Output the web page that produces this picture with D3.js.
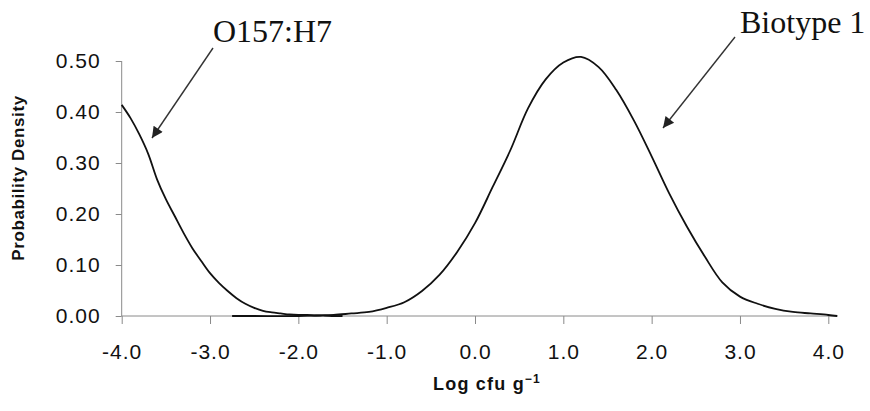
<!DOCTYPE html>
<html>
<head>
<meta charset="utf-8">
<script src="https://cdn.jsdelivr.net/npm/d3@7/dist/d3.min.js"></script>
<style>
  html, body { margin: 0; padding: 0; background: #fff; }
  svg { display: block; }
</style>
</head>
<body>
<svg id="chart" width="870" height="411"></svg>
<script>
// ---- data ----
const xTicks = [-4, -3, -2, -1, 0, 1, 2, 3, 4];
const yTicks = [0, 0.1, 0.2, 0.3, 0.4, 0.5];

const o157X = [-4.0, -3.9, -3.8, -3.7, -3.6, -3.5, -3.4, -3.3, -3.2, -3.1, -3.0, -2.9, -2.8, -2.7, -2.6, -2.5, -2.4, -2.3, -2.2, -2.1, -2.0, -1.9, -1.8, -1.7, -1.6, -1.5];
const o157Y = [0.414, 0.388, 0.356, 0.318, 0.268, 0.229, 0.196, 0.163, 0.133, 0.108, 0.084, 0.065, 0.049, 0.035, 0.024, 0.016, 0.010, 0.007, 0.005, 0.003, 0.002, 0.002, 0.001, 0.001, 0.0, 0.0];

const bioX = [-2.75, -2.5, -2.0, -1.8, -1.6, -1.4, -1.2, -1.0, -0.8, -0.6, -0.4, -0.2, 0.0, 0.2, 0.4, 0.6, 0.8, 1.0, 1.2, 1.4, 1.6, 1.8, 2.0, 2.2, 2.4, 2.6, 2.8, 3.0, 3.2, 3.4, 3.6, 3.8, 4.0, 4.1];
const bioY = [0.0, 0.0, 0.0, 0.001, 0.002, 0.005, 0.008, 0.016, 0.027, 0.049, 0.081, 0.126, 0.182, 0.253, 0.325, 0.407, 0.464, 0.497, 0.508, 0.488, 0.443, 0.383, 0.313, 0.240, 0.175, 0.117, 0.066, 0.038, 0.024, 0.014, 0.008, 0.005, 0.002, 0.0];

const labels = ["O157:H7", "Biotype 1"];
const yTitle = "Probability Density";

// ---- layout ----
const svg = d3.select("#chart");
const x = d3.scaleLinear().domain([-4, 4]).range([121.7, 828.3]);
const xMax = 4.11;
const y = d3.scaleLinear().domain([0, 0.5]).range([316, 61]);

const axisColor = "#8a8a8a";
const fmtX = d => d3.format(".1f")(d).replace("\u2212", "-");

// y axis
const yAxis = svg.append("g").attr("transform", `translate(${x(-4)},0)`)
  .call(d3.axisLeft(y).tickValues(yTicks).tickFormat(d3.format(".2f")).tickSize(6).tickSizeOuter(0));
yAxis.select(".domain").attr("stroke", axisColor).attr("d", `M0,${y(0.5)}V${y(0)}`);
yAxis.selectAll(".tick line").attr("stroke", axisColor);
yAxis.selectAll(".tick text")
  .attr("x", -21)
  .attr("fill", "#111")
  .style("font-family", "Liberation Sans, Arial, sans-serif")
  .style("font-size", "21px")
  .style("letter-spacing", "1px");

// x axis
const xAxis = svg.append("g").attr("transform", `translate(0,${y(0)})`)
  .call(d3.axisBottom(x).tickValues(xTicks).tickFormat(fmtX).tickSize(8).tickSizeOuter(0));
xAxis.select(".domain").attr("stroke", axisColor).attr("d", `M${x(-4)},0H${x(xMax)}`);
xAxis.selectAll(".tick line").attr("stroke", axisColor);
xAxis.selectAll(".tick text")
  .attr("y", 28)
  .attr("dy", "0.71em")
  .attr("fill", "#111")
  .style("font-family", "Liberation Sans, Arial, sans-serif")
  .style("font-size", "21px")
  .style("letter-spacing", "1px");

// axis titles
svg.append("text")
  .attr("transform", `translate(24,${178}) rotate(-90)`)
  .attr("text-anchor", "middle")
  .style("font-family", "Liberation Sans, Arial, sans-serif")
  .style("font-weight", "bold")
  .style("font-size", "17px")
  .style("letter-spacing", "0.6px")
  .attr("fill", "#111")
  .text(yTitle);

const xt = svg.append("text")
  .attr("x", 487).attr("y", 390)
  .attr("text-anchor", "middle")
  .style("font-family", "Liberation Sans, Arial, sans-serif")
  .style("font-weight", "bold")
  .style("font-size", "18px")
  .style("letter-spacing", "1.2px")
  .attr("fill", "#111");
xt.append("tspan").text("Log cfu g");
xt.append("tspan").attr("dy", -7).style("font-size", "12px").text("\u22121");

// curves
const line = d3.line().x(d => x(d[0])).y(d => y(d[1])).curve(d3.curveCatmullRom.alpha(0.5));
svg.append("path")
  .datum(bioX.map((v, i) => [v, bioY[i]]))
  .attr("d", line).attr("fill", "none").attr("stroke", "#111").attr("stroke-width", 1.8);
svg.append("path")
  .datum(o157X.map((v, i) => [v, o157Y[i]]))
  .attr("d", line).attr("fill", "none").attr("stroke", "#111").attr("stroke-width", 1.8);

// arrows
const defs = svg.append("defs");
defs.append("marker")
  .attr("id", "ah").attr("viewBox", "0 0 10 10")
  .attr("refX", 10).attr("refY", 5)
  .attr("markerWidth", 16).attr("markerHeight", 11)
  .attr("markerUnits", "userSpaceOnUse")
  .attr("orient", "auto")
  .append("path").attr("d", "M0,0L10,5L0,10Z").attr("fill", "#222");

svg.append("line")
  .attr("x1", 213).attr("y1", 48).attr("x2", 152).attr("y2", 138)
  .attr("stroke", "#333").attr("stroke-width", 1.4).attr("marker-end", "url(#ah)");
svg.append("line")
  .attr("x1", 735).attr("y1", 37).attr("x2", 663).attr("y2", 128)
  .attr("stroke", "#333").attr("stroke-width", 1.4).attr("marker-end", "url(#ah)");

svg.append("text")
  .attr("x", 213).attr("y", 42)
  .style("font-family", "Liberation Serif, Times New Roman, serif")
  .style("font-size", "32px").attr("fill", "#111")
  .text(labels[0]);
svg.append("text")
  .attr("x", 740).attr("y", 33)
  .style("font-family", "Liberation Serif, Times New Roman, serif")
  .style("font-size", "32px").attr("fill", "#111")
  .text(labels[1]);
</script>
</body>
</html>
